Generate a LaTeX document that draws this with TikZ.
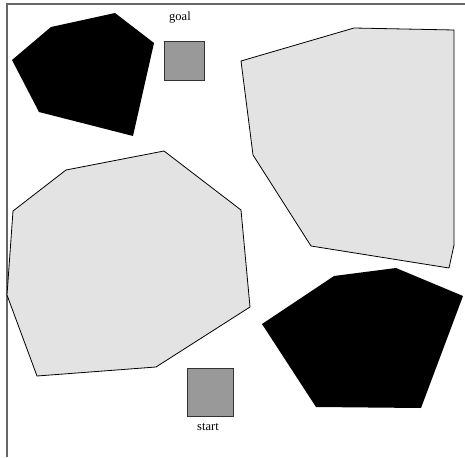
\documentclass[tikz,border=0pt]{standalone}
\usepackage{fontspec}
\setmainfont{Liberation Serif}
\definecolor{freecol}{HTML}{E3E3E3}
\definecolor{boxcol}{HTML}{999999}
\tikzset{
  obstacle/.style={fill=black,draw=none},
  region/.style={fill=freecol,draw=black,line width=0.8pt},
  endbox/.style={draw=black!80,fill=boxcol,line width=0.9pt,minimum width=40pt,minimum height=39pt,inner sep=0pt},
  tag/.style={font=\fontsize{12.5}{14}\selectfont,inner sep=0pt}
}
\begin{document}
\begin{tikzpicture}[x=1pt,y=-1pt]
  \useasboundingbox (0,0) rectangle (465,457);
  \draw[black!60,line width=1.3pt] (465,4) -- (7,4) -- (7,457);
  % obstacles
  \fill[obstacle] (12,60) -- (51,27) -- (115,13) -- (154,43) -- (133,136) -- (39,112) -- cycle;
  \fill[obstacle] (262,324) -- (334,276) -- (396,268) -- (463,296) -- (421,408) -- (316,407) -- cycle;
  % free regions
  \draw[region] (241,61) -- (354,28) -- (454,30) -- (454,245) -- (449,268) -- (311,246) -- (253,155) -- cycle;
  \draw[region] (13,211) -- (66,170) -- (164,151) -- (241,210) -- (250,307) -- (156,367) -- (37,376) -- (7,295) -- cycle;
  % goal and start
  \node[endbox] (goal) at (184,60.5) {};
  \node[tag] (goallab) at (180,18) {goal};
  \node[endbox,minimum width=46pt,minimum height=48pt] (start) at (210,392) {};
  \node[tag] (startlab) at (208,427) {start};
\end{tikzpicture}
\end{document}
